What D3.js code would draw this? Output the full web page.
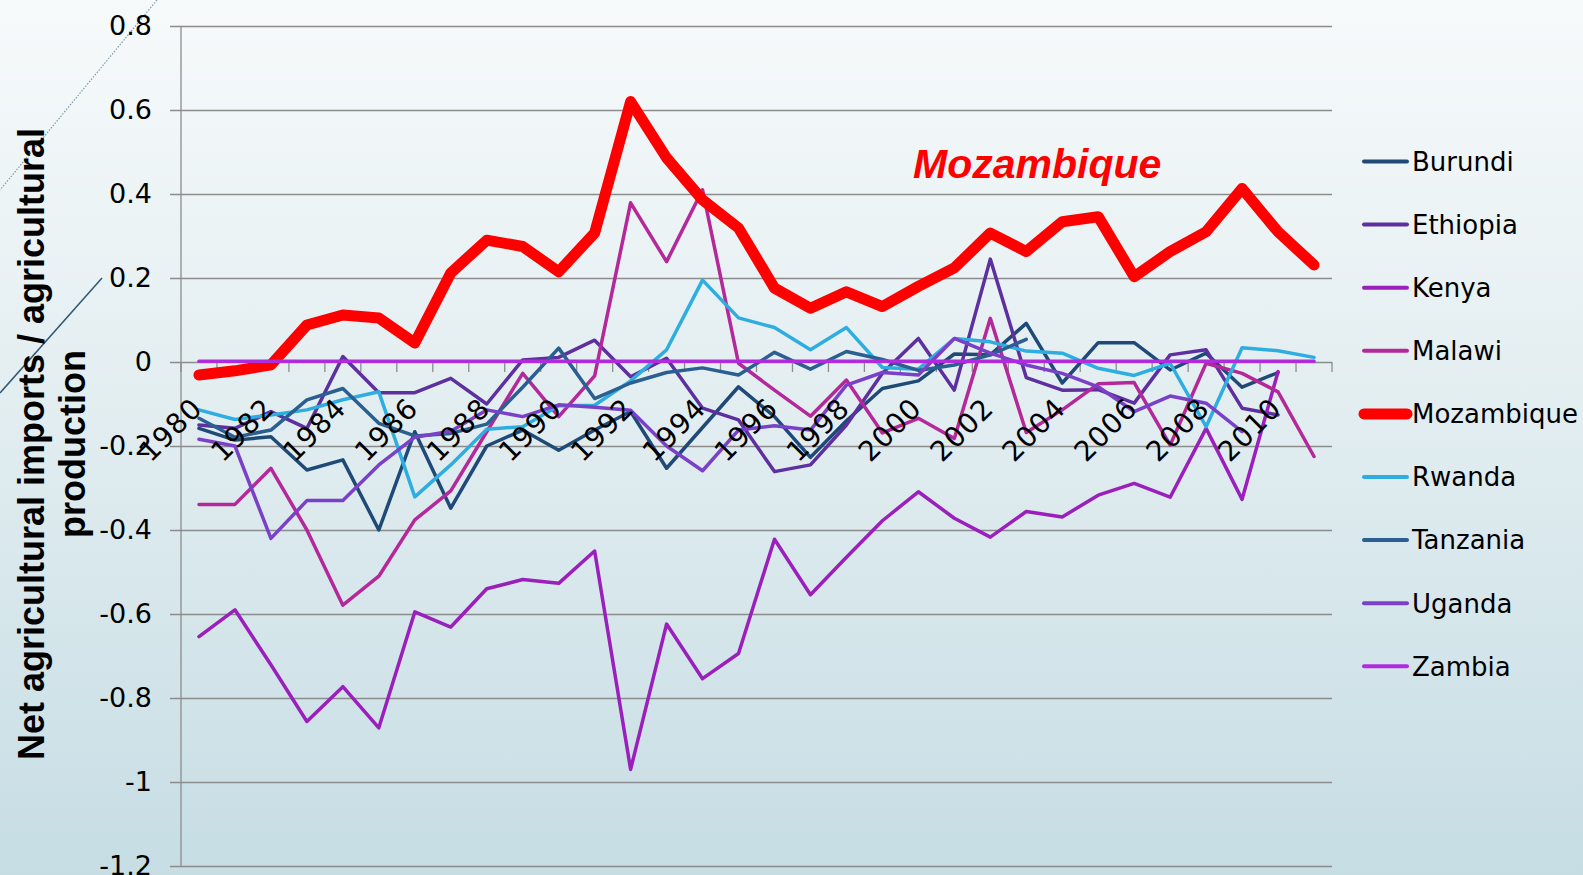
<!DOCTYPE html>
<html>
<head>
<meta charset="utf-8">
<script src="https://cdn.jsdelivr.net/npm/d3@7"></script>
<style>
  html, body { margin: 0; padding: 0; overflow: hidden; }
  svg { display: block; }
</style>
</head>
<body>
<div id="chart"></div>
<script>
// categories
var years = ["1980","1981","1982","1983","1984","1985","1986","1987","1988","1989",
             "1990","1991","1992","1993","1994","1995","1996","1997","1998","1999",
             "2000","2001","2002","2003","2004","2005","2006","2007","2008","2009",
             "2010","2011"];

// series values (null = no data)
var burundi = [-0.158,-0.186,-0.178,-0.257,-0.233,-0.400,-0.166,-0.348,-0.200,-0.162,
               -0.210,-0.162,-0.118,-0.253,-0.156,-0.059,-0.130,-0.227,-0.140,-0.063,
               -0.045,0.019,0.017,0.092,-0.050,0.046,0.046,-0.019,0.021,-0.060,
               -0.025,null];
var ethiopia = [-0.150,-0.158,-0.118,-0.158,0.013,-0.073,-0.073,-0.039,-0.100,0.005,
                0.011,0.052,-0.035,0.009,-0.110,-0.138,-0.261,-0.245,-0.150,-0.027,
                0.056,-0.067,0.245,-0.037,-0.067,-0.066,-0.098,0.017,0.029,-0.110,
                -0.126,null];
var kenya = [-0.654,-0.590,-0.721,-0.856,-0.773,-0.871,-0.595,-0.631,-0.540,-0.518,
             -0.527,-0.450,-0.970,-0.624,-0.754,-0.694,-0.422,-0.554,-0.465,-0.378,
             -0.309,-0.372,-0.417,-0.356,-0.369,-0.317,-0.289,-0.322,-0.158,-0.327,
             -0.023,null];
var malawi = [-0.339,-0.339,-0.253,-0.400,-0.579,-0.510,-0.376,-0.307,-0.166,-0.027,
              -0.130,-0.033,0.379,0.239,0.410,-0.003,-0.067,-0.129,-0.043,-0.169,
              -0.134,-0.182,0.104,-0.168,-0.114,-0.052,-0.049,-0.198,-0.003,-0.027,
              -0.071,-0.225];
var mozambique = [-0.031,-0.021,-0.007,0.088,0.112,0.105,0.045,0.212,0.290,0.275,
                  0.215,0.307,0.620,0.486,0.386,0.319,0.176,0.128,0.167,0.132,
                  0.180,0.224,0.307,0.263,0.334,0.346,0.203,0.263,0.310,0.413,
                  0.310,0.231];
var rwanda = [-0.114,-0.137,-0.126,-0.114,-0.090,-0.071,-0.321,-0.245,-0.160,-0.154,
              -0.104,-0.103,-0.045,0.029,0.195,0.105,0.082,0.029,0.082,-0.013,
              -0.017,0.056,0.048,0.026,0.021,-0.015,-0.032,-0.003,-0.154,0.034,
              0.027,0.011];
var tanzania = [-0.134,-0.179,-0.162,-0.090,-0.063,-0.146,-0.176,-0.170,-0.148,-0.060,
                0.033,-0.087,-0.050,-0.025,-0.014,-0.031,0.023,-0.017,0.025,0.006,
                -0.020,-0.007,0.017,0.054,null,null,null,null,null,null,
                null,null];
var uganda = [-0.184,-0.200,-0.420,-0.330,-0.330,-0.245,-0.179,-0.165,-0.114,-0.130,
              -0.102,-0.108,-0.115,-0.200,-0.259,-0.162,-0.152,-0.162,-0.055,-0.025,
              -0.031,0.056,0.021,-0.007,-0.027,-0.059,-0.118,-0.081,-0.098,-0.166,
              null,null];
var zambia = [0.002,0.002,0.002,0.002,0.002,0.002,0.002,0.002,0.002,0.002,
              0.002,0.002,0.002,0.002,0.002,0.002,0.002,0.002,0.002,0.002,
              0.002,0.002,0.002,0.002,0.002,0.002,0.002,0.002,0.002,0.002,
              0.002,0.002];

var seriesNames = ["Burundi","Ethiopia","Kenya","Malawi","Mozambique","Rwanda","Tanzania","Uganda","Zambia"];
var seriesValues = [burundi, ethiopia, kenya, malawi, mozambique, rwanda, tanzania, uganda, zambia];
var seriesColors = ["#1f4a78","#5e2f9e","#9a1fbc","#b5289a","#ff0000","#2eaee0","#2a5f92","#7a40c8","#b02bdc"];

// tick labels
var yTickValues = [0.8, 0.6, 0.4, 0.2, 0, -0.2, -0.4, -0.6, -0.8, -1, -1.2];
var yTickLabels = ["0.8","0.6","0.4","0.2","0","-0.2","-0.4","-0.6","-0.8","-1","-1.2"];
var xTickLabels = ["1980","1982","1984","1986","1988","1990","1992","1994","1996","1998",
                   "2000","2002","2004","2006","2008","2010"];

var W = 1583, H = 875;
var plotL = 181, plotR = 1332, plotT = 26, plotB = 866;
var tickFont = "'DejaVu Sans', sans-serif";

var svg = d3.select("#chart")
  .append("svg")
    .attr("width", W)
    .attr("height", H);

// slide background
var defs = svg.append("defs");
var grad = defs.append("linearGradient")
    .attr("id", "bg")
    .attr("x1", 0).attr("y1", 0).attr("x2", 0).attr("y2", 1);
grad.append("stop").attr("offset", "0%").attr("stop-color", "#f7fafb");
grad.append("stop").attr("offset", "45%").attr("stop-color", "#e3eef1");
grad.append("stop").attr("offset", "100%").attr("stop-color", "#c6dde4");

svg.append("rect")
    .attr("width", W)
    .attr("height", H)
    .attr("fill", "url(#bg)");

// theme decoration lines
svg.append("line")
    .attr("x1", 157).attr("y1", 0)
    .attr("x2", 0).attr("y2", 190)
    .attr("stroke", "#7f9cac")
    .attr("stroke-width", 1.2)
    .attr("stroke-dasharray", "1.5,1.5");
svg.append("line")
    .attr("x1", 102).attr("y1", 278)
    .attr("x2", 0).attr("y2", 393)
    .attr("stroke", "#2d5775")
    .attr("stroke-width", 1.5);

var x = d3.scaleBand()
    .domain(years)
    .range([plotL, plotR]);

var y = d3.scaleLinear()
    .domain([-1.2, 0.8])
    .range([plotB, plotT]);

function cx(yr) { return x(yr) + x.bandwidth() / 2; }

// gridlines + y axis
var yAxis = d3.axisLeft(y)
    .tickValues(yTickValues)
    .tickSize(-(plotR - plotL + 11))
    .tickPadding(18)
    .tickFormat(function(d, i) { return yTickLabels[i]; });

var yg = svg.append("g")
    .attr("transform", "translate(" + (plotL - 11) + ",0)")
    .call(yAxis);
yg.select(".domain").remove();
yg.selectAll(".tick line")
    .attr("stroke", "#8c8c8c")
    .attr("stroke-width", 1.3);
yg.selectAll(".tick text")
    .attr("font-family", tickFont)
    .attr("font-size", 27)
    .attr("fill", "#000");

svg.append("line")
    .attr("x1", plotL).attr("y1", plotT)
    .attr("x2", plotL).attr("y2", plotB)
    .attr("stroke", "#8c8c8c")
    .attr("stroke-width", 1.3);

// category axis at zero
var y0 = y(0);
var xg = svg.append("g").attr("class", "x-axis");
xg.selectAll("line.tick")
    .data(years.concat(["end"]))
    .enter()
    .append("line")
      .attr("class", "tick")
      .attr("x1", function(d) { return d === "end" ? plotR : x(d); })
      .attr("x2", function(d) { return d === "end" ? plotR : x(d); })
      .attr("y1", y0)
      .attr("y2", y0 + 10)
      .attr("stroke", "#8c8c8c")
      .attr("stroke-width", 1.3);

// series lines
var line = d3.line()
    .defined(function(d) { return d.v !== null; })
    .x(function(d) { return cx(d.year); })
    .y(function(d) { return y(d.v); });

var series = seriesNames.map(function(name, i) {
  return {
    name: name,
    color: seriesColors[i],
    values: years.map(function(yr, j) { return { year: yr, v: seriesValues[i][j] }; })
  };
});

svg.append("g")
  .selectAll("path")
  .data(series)
  .enter()
  .append("path")
    .attr("d", function(d) { return line(d.values); })
    .attr("fill", "none")
    .attr("stroke", function(d) { return d.color; })
    .attr("stroke-width", function(d) { return d.name === "Mozambique" ? 11 : 3.5; })
    .attr("stroke-linejoin", "round")
    .attr("stroke-linecap", "round");

// category labels, every second year, rotated
svg.append("g")
  .selectAll("text")
  .data(xTickLabels)
  .enter()
  .append("text")
    .attr("transform", function(d) {
      return "translate(" + (cx(d) + 5) + "," + (y0 + 48) + ") rotate(-45)";
    })
    .attr("text-anchor", "end")
    .attr("font-family", tickFont)
    .attr("font-size", 28)
    .attr("letter-spacing", 1)
    .attr("fill", "#000")
    .text(function(d) { return d; });

// y axis title
var title = svg.append("text")
    .attr("transform", "translate(44," + 444 + ") rotate(-90)")
    .attr("text-anchor", "middle")
    .attr("font-family", "'Liberation Sans', Arial, sans-serif")
    .attr("font-weight", "bold")
    .attr("font-size", 36)
    .attr("fill", "#000");
title.append("tspan")
    .attr("x", 0).attr("y", 0)
    .text("Net agricultural imports / agricultural");
title.append("tspan")
    .attr("x", 0).attr("y", 41)
    .text("production");

// annotation
svg.append("text")
    .attr("x", 913)
    .attr("y", 178)
    .attr("font-family", "'Liberation Sans', Arial, sans-serif")
    .attr("font-weight", "bold")
    .attr("font-style", "italic")
    .attr("font-size", 41)
    .attr("fill", "#ff0000")
    .text("Mozambique");

// legend
var legend = svg.append("g")
  .selectAll("g")
  .data(series)
  .enter()
  .append("g")
    .attr("transform", function(d, i) { return "translate(0," + (161.5 + i * 63.1) + ")"; });

legend.append("line")
    .attr("x1", 1364).attr("x2", 1407)
    .attr("y1", 0).attr("y2", 0)
    .attr("stroke", function(d) { return d.color; })
    .attr("stroke-width", function(d) { return d.name === "Mozambique" ? 11 : 4; })
    .attr("stroke-linecap", "round");

legend.append("text")
    .attr("x", 1412)
    .attr("y", 0)
    .attr("dy", "0.36em")
    .attr("font-family", tickFont)
    .attr("font-size", 26)
    .attr("fill", "#000")
    .text(function(d) { return d.name; });
</script>
</body>
</html>
